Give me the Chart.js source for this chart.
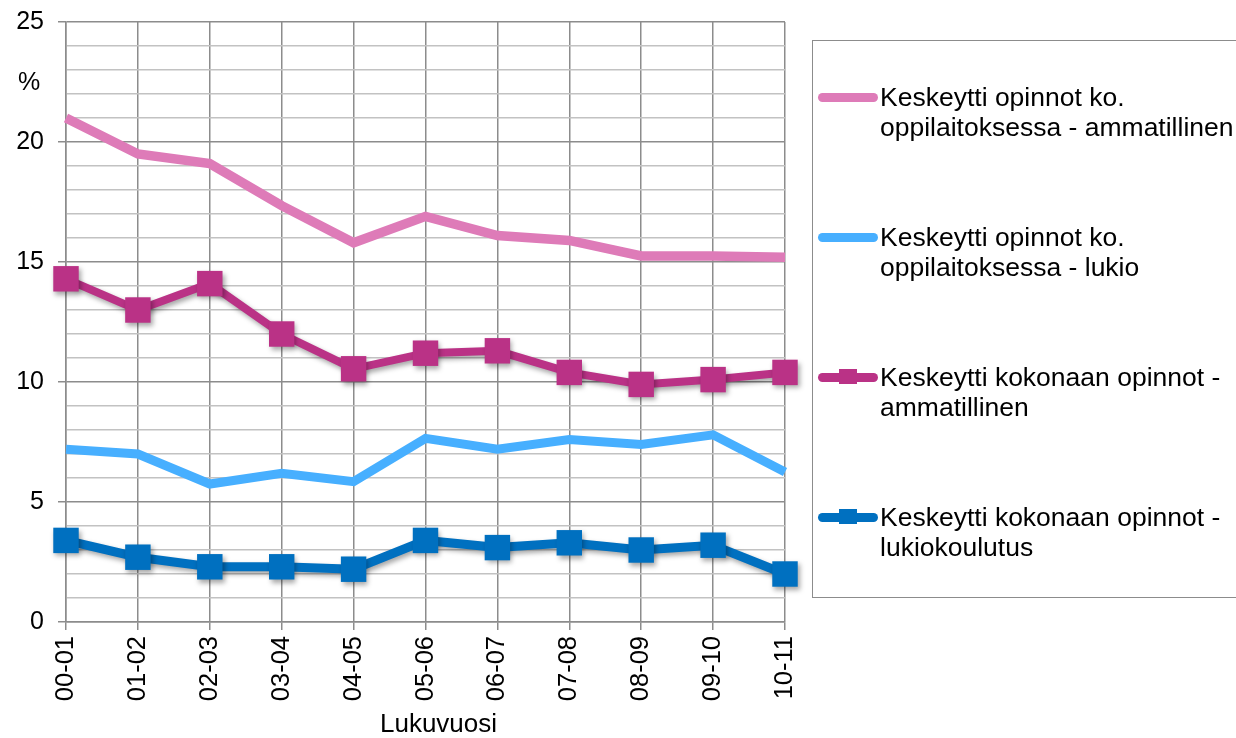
<!DOCTYPE html>
<html><head><meta charset="utf-8">
<script src="https://cdn.jsdelivr.net/npm/chart.js@4.4.1/dist/chart.umd.min.js"></script>
<style>
html,body{margin:0;padding:0;background:#fff;overflow:hidden}
#wrap{position:relative;width:1236px;height:738px;font-family:"Liberation Sans",Arial,sans-serif}
#c{position:absolute;left:0;top:0}
#legend{position:absolute;left:812px;top:40px;width:440px;height:558px;border:1.5px solid #8c8c8c;box-sizing:border-box;background:transparent}
.item{position:absolute;left:0;width:440px;height:60px}
.sample{position:absolute;left:5px;top:10.5px;width:60px;height:9px;border-radius:4.5px}
.sq{position:absolute;left:26px;top:7px;width:18px;height:15px}
.txt{position:absolute;left:67px;top:0;font-size:26.5px;line-height:30px;color:#000;white-space:nowrap}
</style>
</head><body>
<div id="wrap">
<canvas id="c" width="1236" height="738"></canvas>
<div id="legend"></div>
</div>
<script>
const categories = ['00-01','01-02','02-03','03-04','04-05','05-06','06-07','07-08','08-09','09-10','10-11'];
const ammKo = [21.0, 19.5, 19.1, 17.35, 15.8, 16.9, 16.1, 15.9, 15.25, 15.25, 15.2];
const lukioKo = [7.2, 7.0, 5.75, 6.2, 5.85, 7.65, 7.2, 7.6, 7.4, 7.8, 6.25];
const ammKok = [14.3, 13.0, 14.1, 12.0, 10.55, 11.2, 11.3, 10.4, 9.9, 10.1, 10.4];
const lukioKok = [3.4, 2.7, 2.3, 2.3, 2.2, 3.4, 3.1, 3.3, 3.0, 3.2, 2.0];
const seriesNames = [
  ['Keskeytti opinnot ko.', 'oppilaitoksessa - ammatillinen'],
  ['Keskeytti opinnot ko.', 'oppilaitoksessa - lukio'],
  ['Keskeytti kokonaan opinnot -', 'ammatillinen'],
  ['Keskeytti kokonaan opinnot -', 'lukiokoulutus']
];
const yTitle = '%';
const xTitle = 'Lukuvuosi';

const FONT = '"Liberation Sans", Arial, sans-serif';
const MAJOR = '#8c8c8c', MINOR = '#c2c2c2';

const shadowPlugin = {
  id: 'shadowPlugin',
  beforeDatasetDraw(chart, args) {
    const ds = chart.data.datasets[args.index];
    const ctx = chart.ctx;
    ctx.save();
    if (ds.shadow) {
      ctx.shadowColor = 'rgba(0,0,0,0.35)';
      ctx.shadowBlur = 5;
      ctx.shadowOffsetX = 2;
      ctx.shadowOffsetY = 3;
    }
  },
  afterDatasetDraw(chart) { chart.ctx.restore(); }
};

const titlesPlugin = {
  id: 'titlesPlugin',
  afterDraw(chart) {
    const ctx = chart.ctx, y = chart.scales.y, a = chart.chartArea;
    ctx.save();
    ctx.fillStyle = '#000';
    ctx.textAlign = 'center';
    ctx.textBaseline = 'middle';
    ctx.font = '25px ' + FONT;
    ctx.fillText(yTitle, a.left - 37, y.getPixelForValue(22.45));
    ctx.font = '26px ' + FONT;
    ctx.fillText(xTitle, (a.left + a.right) / 2 + 13, chart.height - 13);
    ctx.restore();
  }
};

const datasets = [
  {label: seriesNames[0].join(' '), data: ammKo, borderColor: '#DE7BB8', backgroundColor: '#DE7BB8', borderWidth: 9.5, pointRadius: 0, shadow: false},
  {label: seriesNames[1].join(' '), data: lukioKo, borderColor: '#47AFFF', backgroundColor: '#47AFFF', borderWidth: 9, pointRadius: 0, shadow: false},
  {label: seriesNames[2].join(' '), data: ammKok, borderColor: '#BA3286', backgroundColor: '#BA3286', borderWidth: 8, pointRadius: 18, pointStyle: 'rect', pointBorderWidth: 0, shadow: true, marker: true},
  {label: seriesNames[3].join(' '), data: lukioKok, borderColor: '#0070C0', backgroundColor: '#0070C0', borderWidth: 9, pointRadius: 18, pointStyle: 'rect', pointBorderWidth: 0, shadow: true, marker: true}
].map(d => Object.assign({tension: 0, fill: false, clip: false, pointHoverRadius: d.pointRadius, borderJoinStyle: 'miter', borderCapStyle: 'butt'}, d));

const chart = new Chart(document.getElementById('c'), {
  type: 'line',
  data: {labels: categories, datasets},
  plugins: [shadowPlugin, titlesPlugin],
  options: {
    responsive: false,
    animation: false,
    events: [],
    layout: {padding: {left: 0, top: 22, right: 451, bottom: 0}},
    plugins: {legend: {display: false}, tooltip: {enabled: false}},
    scales: {
      x: {
        type: 'category',
        offset: false,
        afterFit: s => { s.height = 116; s.paddingLeft = 0; s.paddingRight = 0; },
        grid: {color: MAJOR, lineWidth: 1.5, tickLength: 8, tickColor: MAJOR, drawOnChartArea: true},
        border: {color: MAJOR, width: 1.5},
        ticks: {color: '#000', font: {family: FONT, size: 25.5}, maxRotation: 90, minRotation: 90, padding: 6, autoSkip: false},
        title: {display: false}
      },
      y: {
        min: 0, max: 25,
        afterFit: s => { s.width = 66; s.paddingTop = 0; s.paddingBottom = 0; },
        grid: {
          color: c => (c.tick && c.tick.value % 5 === 0) ? MAJOR : MINOR,
          tickColor: c => (c.tick && c.tick.value % 5 === 0) ? MAJOR : 'rgba(0,0,0,0)',
          lineWidth: 1.5, tickLength: 8
        },
        border: {color: MAJOR, width: 1.5},
        ticks: {
          stepSize: 1, autoSkip: false, padding: 14, color: '#000',
          font: {family: FONT, size: 25},
          callback: v => (v % 5 === 0 ? String(v) : '')
        }
      }
    }
  }
});

// HTML legend built from the datasets
const legend = document.getElementById('legend');
const tops = [41, 181, 321, 461];
datasets.forEach((ds, i) => {
  const item = document.createElement('div');
  item.className = 'item';
  item.style.top = tops[i] + 'px';
  const line = document.createElement('div');
  line.className = 'sample';
  line.style.background = ds.borderColor;
  item.appendChild(line);
  if (ds.marker) {
    const sq = document.createElement('div');
    sq.className = 'sq';
    sq.style.background = ds.backgroundColor;
    item.appendChild(sq);
  }
  const t = document.createElement('div');
  t.className = 'txt';
  t.innerHTML = seriesNames[i].map(s => s.replace(/&/g,'&amp;').replace(/</g,'&lt;')).join('<br>');
  item.appendChild(t);
  legend.appendChild(item);
});
</script>
</body></html>
